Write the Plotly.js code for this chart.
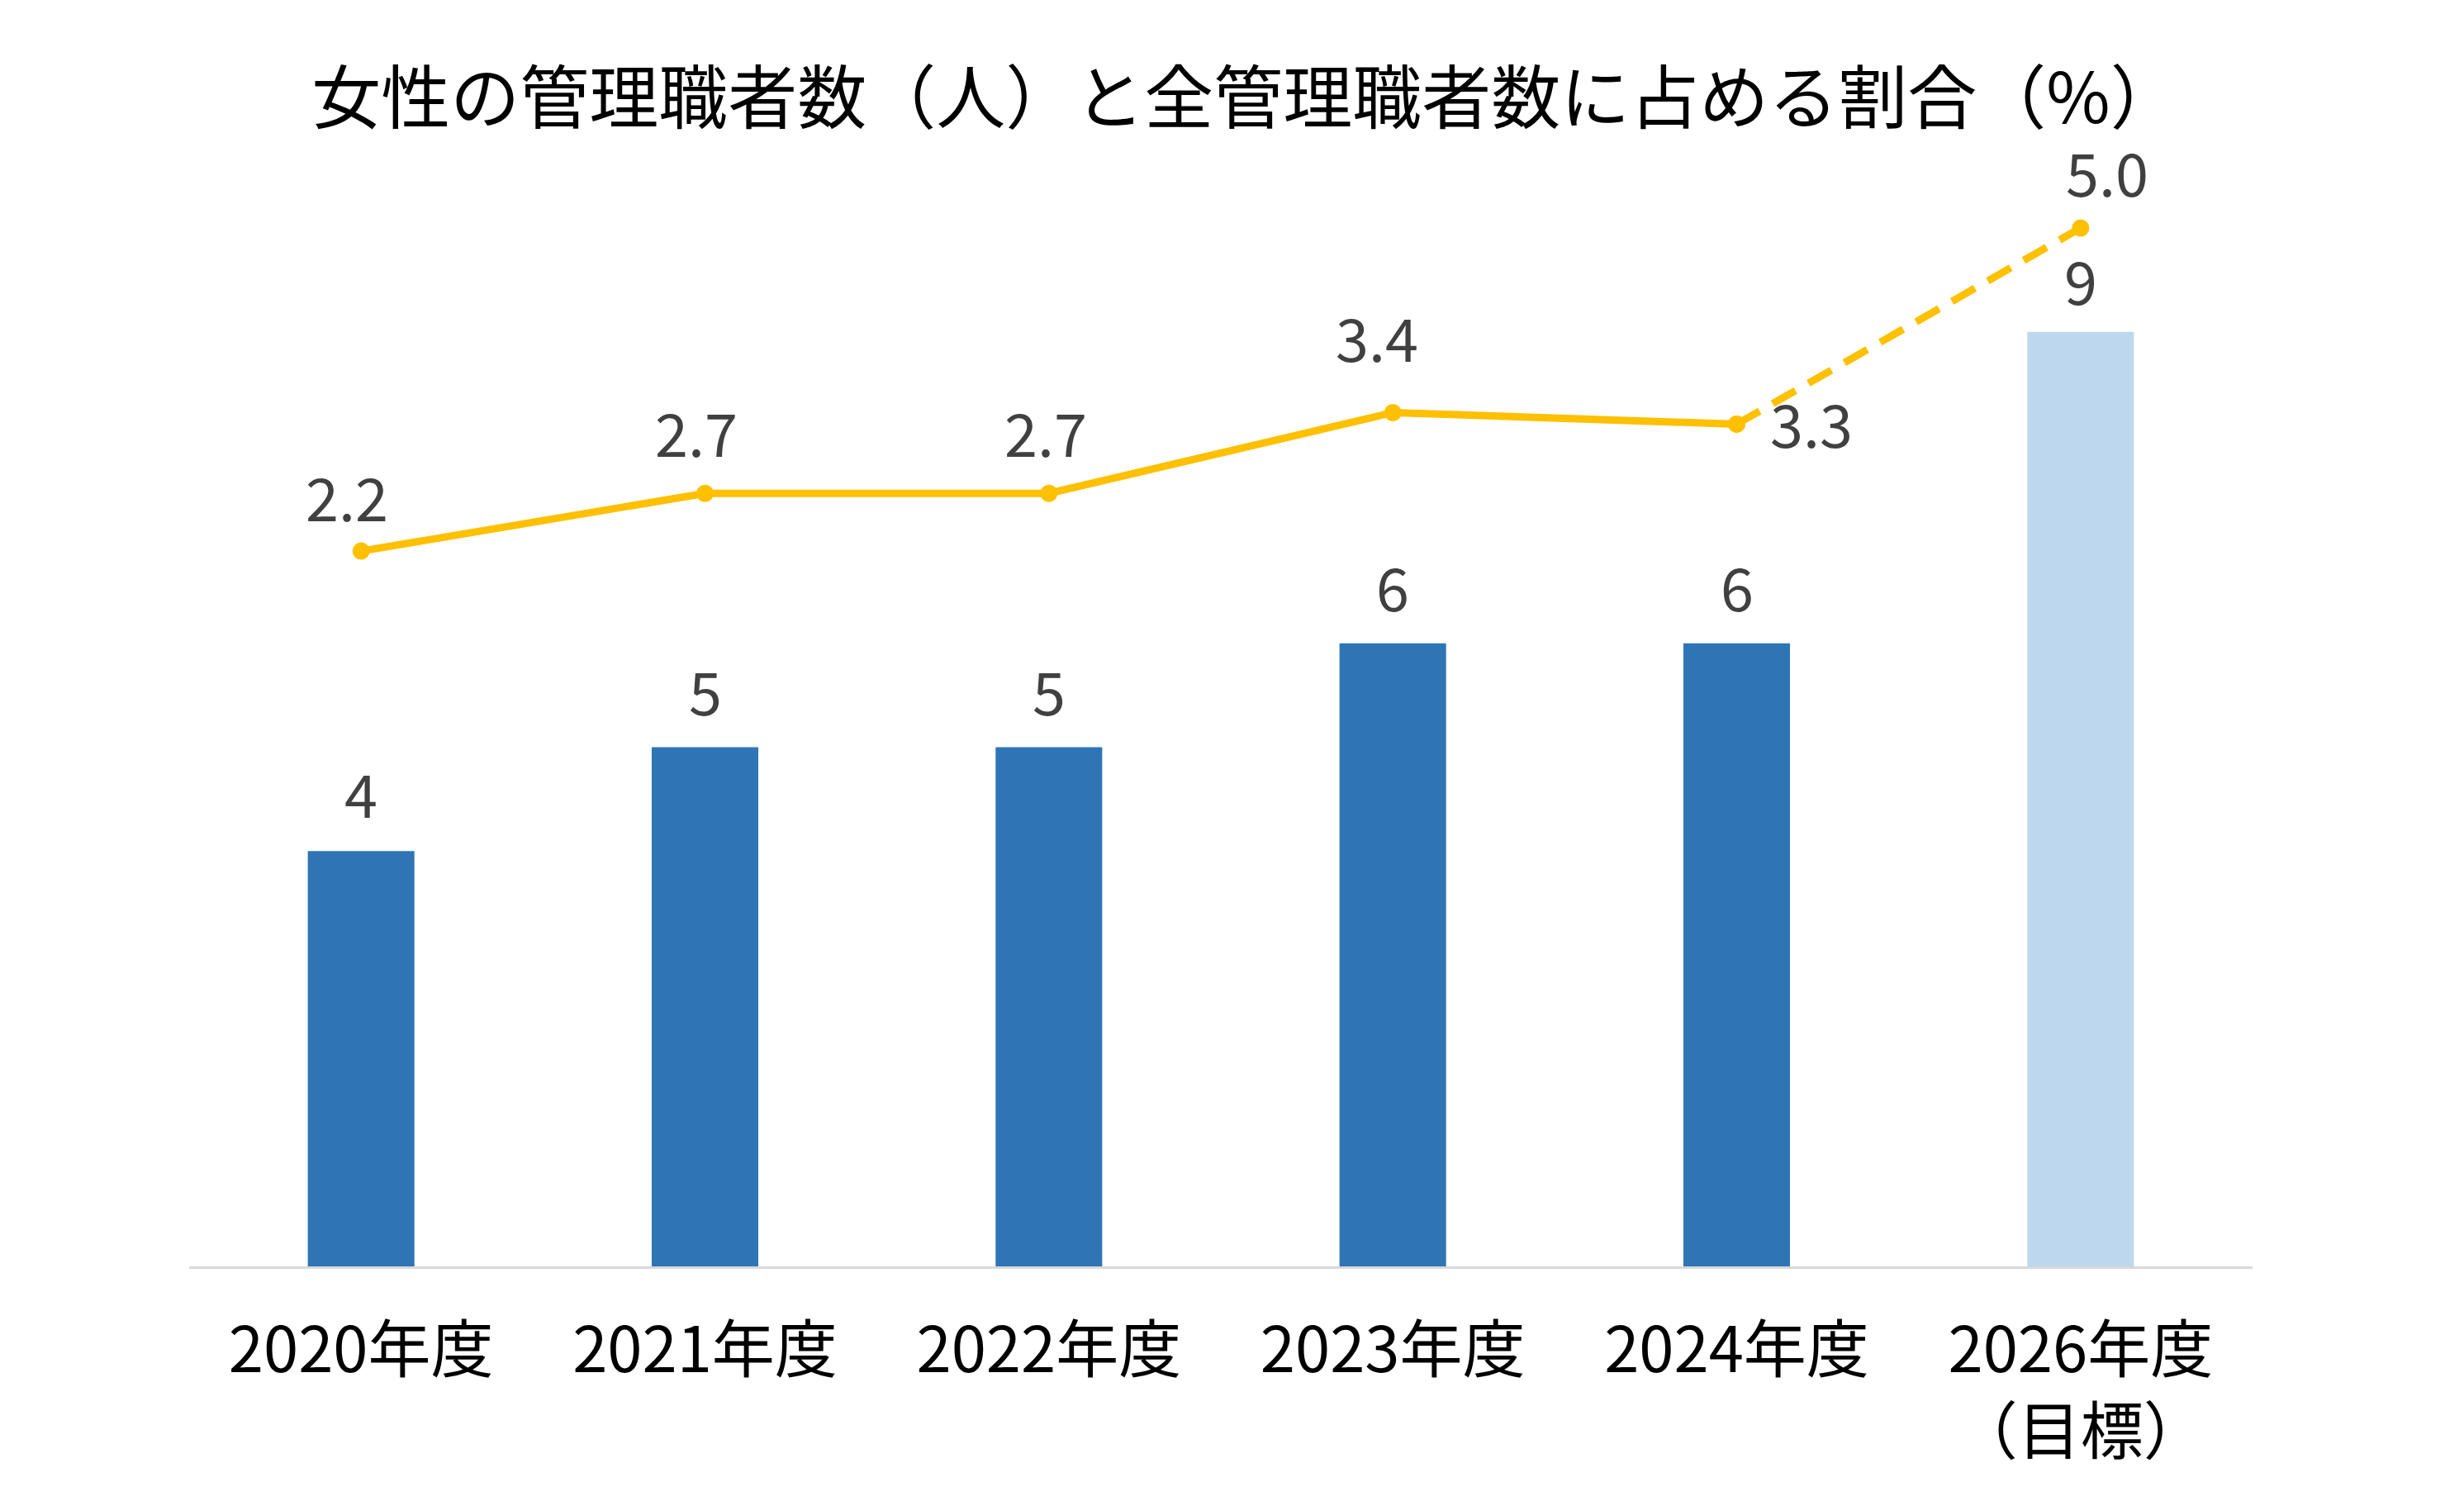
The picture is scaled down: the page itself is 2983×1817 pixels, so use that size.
<!DOCTYPE html>
<html>
<head>
<meta charset="utf-8">
<script src="https://cdn.plot.ly/plotly-3.0.1.min.js"></script>
<style>html,body{margin:0;padding:0;background:#fff;}#chart{width:2983px;height:1817px;}</style>
</head>
<body>
<div id="chart"></div>
<script>
// ---- data ----
const categories = ['2020年度', '2021年度', '2022年度', '2023年度', '2024年度', '2026年度<br>（目標）'];
const womenManagers = [4, 5, 5, 6, 6, 9];
const womenRatio = [2.2, 2.7, 2.7, 3.4, 3.3, 5.0];
const ratioLabels = ['2.2', '2.7', '2.7', '3.4', '3.3', '5.0'];
const titleText = '女性の管理職者数（人）と全管理職者数に占める割合（%）';

// ---- styles ----
const barColors = ['#2E75B6', '#2E75B6', '#2E75B6', '#2E75B6', '#2E75B6', '#BDD7EE'];
const lineColor = '#FFC000';
const labelColor = '#404040';
const FONT = '"Noto Sans CJK JP", "Noto Sans", sans-serif';
const ratioLabelXShift = [-17, -11, -4, -19, 90, 32];
const ratioLabelYShift = [68, 76, 76, 93, 3, 70];
const barLabelYShift = [72, 70, 70, 70, 70, 64];

const nSolid = 5;
const traces = [
  {
    type: 'bar', x: categories, y: womenManagers, width: 0.31,
    marker: {color: barColors}, hoverinfo: 'skip', showlegend: false
  },
  {
    type: 'scatter', mode: 'lines+markers', yaxis: 'y2',
    x: categories.slice(0, nSolid), y: womenRatio.slice(0, nSolid),
    line: {color: lineColor, width: 9}, marker: {color: lineColor, size: 21},
    cliponaxis: false, showlegend: false
  },
  {
    type: 'scatter', mode: 'lines+markers', yaxis: 'y2',
    x: categories.slice(nSolid - 1), y: womenRatio.slice(nSolid - 1),
    line: {color: lineColor, width: 9, dash: '32px,18px'}, marker: {color: lineColor, size: 21},
    cliponaxis: false, showlegend: false
  }
];

const annotations = [];
categories.forEach((c, i) => {
  annotations.push({
    x: c, y: womenManagers[i], xref: 'x', yref: 'y',
    text: String(womenManagers[i]), showarrow: false,
    yanchor: 'middle', xanchor: 'center', yshift: barLabelYShift[i],
    font: {family: FONT, size: 72, color: labelColor}
  });
  annotations.push({
    x: c, y: womenRatio[i], xref: 'x', yref: 'y2',
    text: ratioLabels[i], showarrow: false,
    yanchor: 'middle', xanchor: 'center',
    xshift: ratioLabelXShift[i], yshift: ratioLabelYShift[i],
    font: {family: FONT, size: 72, color: labelColor}
  });
});

const layout = {
  width: 2983, height: 1817,
  paper_bgcolor: '#ffffff', plot_bgcolor: '#ffffff',
  margin: {l: 229, r: 256, t: 276, b: 284},
  font: {family: FONT, color: '#000000'},
  title: {
    text: titleText, x: 1508 / 2983, xanchor: 'center', xref: 'container',
    y: 1 - 120 / 1817, yanchor: 'middle', yref: 'container',
    font: {family: FONT, size: 84, color: '#000000'}
  },
  bargap: 0.69,
  xaxis: {
    type: 'category', showline: true, linecolor: '#D9D9D9', linewidth: 3,
    ticks: '', showgrid: false, zeroline: false,
    tickfont: {family: FONT, size: 76, color: '#000000'},
    ticklabelstandoff: 34, fixedrange: true
  },
  yaxis: {range: [0, 10], visible: false, fixedrange: true},
  yaxis2: {range: [-4, 5], overlaying: 'y', side: 'right', visible: false, fixedrange: true},
  annotations: annotations,
  showlegend: false
};

Plotly.newPlot('chart', traces, layout, {displayModeBar: false, staticPlot: true});
</script>
</body>
</html>
